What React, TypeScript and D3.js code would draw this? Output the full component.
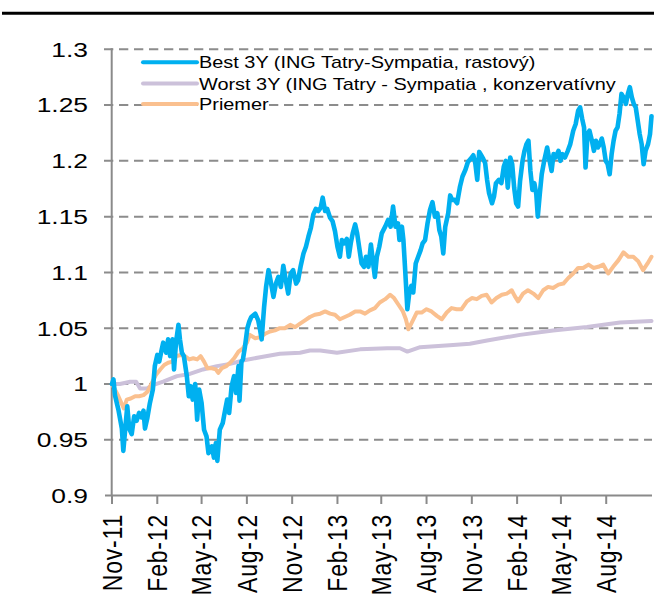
import React from "react";
import * as d3 from "d3";

const seriesNames = [
  "Best 3Y (ING Tatry-Sympatia, rastový)",
  "Worst 3Y (ING Tatry - Sympatia , konzervatívny",
  "Priemer",
];
const seriesColors = ["#00B0F0", "#CCC1DA", "#FAC08F"];

const startDate = "2011-11-01";
const endDate = "2014-11-01";

const tickLabels = ["Nov-11", "Feb-12", "May-12", "Aug-12", "Nov-12", "Feb-13", "May-13", "Aug-13", "Nov-13", "Feb-14", "May-14", "Aug-14"];
const yTicks = [0.9, 0.95, 1, 1.05, 1.1, 1.15, 1.2, 1.25, 1.3];
const yTickLabels = ["0.9", "0.95", "1", "1.05", "1.1", "1.15", "1.2", "1.25", "1.3"];

// Best 3Y: day offset from start, value
const bestDays = [0, 3, 6, 13, 20, 23, 28, 31, 35, 40, 45, 50, 55, 60, 64, 67, 72, 77, 83, 87, 92, 96, 101, 104, 110, 114, 118, 123, 126, 130, 135, 138, 142, 146, 152, 156, 160, 164, 169, 173, 177, 182, 187, 192, 196, 203, 207, 211, 214, 219, 225, 230, 234, 238, 243, 248, 252, 257, 259, 263, 266, 270, 275, 279, 283, 291, 297, 301, 304, 309, 313, 318, 322, 328, 333, 338, 343, 348, 353, 358, 363, 368, 374, 378, 383, 389, 394, 399, 404, 409, 414, 419, 424, 428, 433, 437, 443, 448, 453, 458, 463, 467, 471, 477, 481, 485, 489, 494, 498, 502, 507, 512, 516, 521, 526, 530, 534, 538, 543, 548, 555, 561, 566, 571, 576, 581, 584, 589, 592, 596, 600, 604, 608, 612, 617, 622, 627, 631, 636, 641, 646, 651, 656, 661, 665, 669, 673, 677, 683, 687, 691, 696, 701, 707, 712, 718, 723, 729, 734, 738, 742, 746, 750, 754, 758, 762, 766, 772, 776, 780, 786, 791, 796, 800, 804, 809, 813, 817, 821, 825, 829, 834, 838, 842, 846, 850, 854, 858, 862, 865, 869, 873, 878, 884, 889, 893, 897, 901, 907, 911, 915, 920, 926, 931, 937, 942, 947, 951, 955, 959, 962, 966, 970, 975, 979, 983, 987, 991, 995, 999, 1003, 1007, 1011, 1015, 1019, 1023, 1027, 1031, 1035, 1039, 1044, 1048, 1052, 1056, 1060, 1064, 1068, 1072, 1076, 1080, 1084, 1089, 1093, 1096];
const bestValues = [1.0, 1.004, 0.99, 0.977, 0.96, 0.94, 0.965, 0.98, 0.96, 0.955, 0.971, 0.967, 0.974, 0.97, 0.976, 0.96, 0.97, 0.983, 0.995, 1.016, 1.026, 1.02, 1.031, 1.037, 1.028, 1.04, 1.025, 1.04, 1.013, 1.037, 1.053, 1.04, 1.028, 1.025, 1.007, 0.989, 0.998, 0.986, 1.0, 0.968, 0.995, 0.983, 0.959, 0.953, 0.938, 0.944, 0.934, 0.947, 0.931, 0.959, 0.965, 0.977, 0.986, 0.974, 0.998, 1.007, 0.992, 1.016, 0.985, 1.02, 1.022, 1.033, 1.05, 1.056, 1.06, 1.063, 1.057, 1.048, 1.04, 1.069, 1.087, 1.102, 1.093, 1.078, 1.09, 1.096, 1.087, 1.106, 1.093, 1.081, 1.099, 1.102, 1.09, 1.093, 1.105, 1.117, 1.123, 1.132, 1.14, 1.152, 1.157, 1.155, 1.158, 1.167, 1.155, 1.157, 1.149, 1.146, 1.137, 1.123, 1.114, 1.129, 1.126, 1.13, 1.114, 1.126, 1.135, 1.143, 1.135, 1.123, 1.108, 1.105, 1.114, 1.105, 1.125, 1.11, 1.096, 1.114, 1.123, 1.135, 1.141, 1.147, 1.141, 1.159, 1.141, 1.144, 1.129, 1.141, 1.129, 1.099, 1.067, 1.082, 1.088, 1.082, 1.108, 1.114, 1.12, 1.126, 1.129, 1.144, 1.156, 1.163, 1.15, 1.153, 1.138, 1.132, 1.117, 1.141, 1.153, 1.169, 1.165, 1.165, 1.162, 1.177, 1.186, 1.192, 1.199, 1.202, 1.205, 1.198, 1.183, 1.208, 1.205, 1.202, 1.198, 1.183, 1.171, 1.162, 1.168, 1.18, 1.183, 1.18, 1.195, 1.2, 1.176, 1.203, 1.197, 1.176, 1.162, 1.159, 1.182, 1.2, 1.209, 1.215, 1.218, 1.191, 1.174, 1.18, 1.17, 1.15, 1.17, 1.188, 1.2, 1.212, 1.2, 1.191, 1.206, 1.203, 1.209, 1.2, 1.206, 1.203, 1.209, 1.215, 1.227, 1.233, 1.245, 1.248, 1.238, 1.23, 1.194, 1.224, 1.227, 1.218, 1.209, 1.218, 1.212, 1.215, 1.22, 1.212, 1.2, 1.197, 1.188, 1.206, 1.218, 1.227, 1.23, 1.242, 1.26, 1.257, 1.251, 1.26, 1.266, 1.257, 1.251, 1.248, 1.236, 1.224, 1.215, 1.197, 1.209, 1.215, 1.224, 1.24];

// Worst 3Y
const worstDays = [0, 16, 37, 49, 57, 71, 83, 104, 132, 158, 185, 213, 240, 266, 301, 341, 382, 402, 423, 457, 504, 559, 585, 600, 626, 693, 727, 762, 829, 896, 965, 1032, 1096];
const worstValues = [1.0, 1.0, 1.002, 1.002, 0.996, 0.996, 0.999, 1.002, 1.007, 1.009, 1.013, 1.016, 1.018, 1.021, 1.024, 1.027, 1.028, 1.03, 1.03, 1.028, 1.031, 1.032, 1.032, 1.029, 1.033, 1.035, 1.036, 1.039, 1.044, 1.048, 1.051, 1.055, 1.0565];

// Priemer
const avgDays = [0, 6, 13, 22, 24, 30, 38, 47, 55, 64, 72, 81, 89, 98, 106, 114, 123, 131, 140, 148, 157, 165, 173, 180, 187, 194, 203, 211, 216, 223, 232, 240, 248, 257, 266, 274, 280, 291, 301, 311, 321, 331, 341, 351, 362, 372, 382, 392, 402, 412, 423, 433, 443, 453, 463, 473, 483, 494, 504, 514, 524, 534, 544, 555, 565, 573, 582, 591, 597, 602, 609, 619, 629, 639, 649, 660, 670, 680, 690, 700, 710, 721, 731, 741, 751, 761, 771, 781, 792, 802, 812, 818, 825, 835, 845, 856, 866, 876, 886, 896, 907, 917, 927, 937, 947, 957, 968, 978, 988, 998, 1008, 1018, 1029, 1039, 1049, 1059, 1069, 1079, 1088, 1096];
const avgValues = [1.0, 0.995, 0.989, 0.98, 0.978, 0.986, 0.987, 0.989, 0.989, 0.99, 0.993, 1.001, 1.008, 1.013, 1.017, 1.019, 1.02, 1.025, 1.026, 1.025, 1.022, 1.023, 1.022, 1.025, 1.02, 1.014, 1.014, 1.013, 1.01, 1.014, 1.016, 1.019, 1.023, 1.029, 1.032, 1.037, 1.044, 1.041, 1.042, 1.045, 1.047, 1.048, 1.05, 1.05, 1.053, 1.051, 1.054, 1.057, 1.06, 1.062, 1.063, 1.065, 1.063, 1.062, 1.058, 1.06, 1.062, 1.065, 1.065, 1.063, 1.066, 1.068, 1.073, 1.076, 1.08, 1.077, 1.071, 1.065, 1.058, 1.049, 1.055, 1.064, 1.064, 1.067, 1.065, 1.061, 1.058, 1.064, 1.068, 1.067, 1.067, 1.074, 1.077, 1.076, 1.079, 1.08, 1.073, 1.077, 1.08, 1.081, 1.084, 1.079, 1.074, 1.081, 1.084, 1.081, 1.077, 1.084, 1.087, 1.086, 1.089, 1.09, 1.095, 1.099, 1.104, 1.104, 1.107, 1.104, 1.105, 1.107, 1.099, 1.105, 1.111, 1.118, 1.114, 1.114, 1.11, 1.102, 1.108, 1.114];

const W = 654;
const H = 610;
const FONT = "'Liberation Sans', Arial, Helvetica, sans-serif";

export default function App() {
  const parse = d3.timeParse("%Y-%m-%d");
  const start = parse(startDate) as Date;
  const end = parse(endDate) as Date;
  const x = d3.scaleTime().domain([start, end]).range([112, 651.5]);
  const y = d3.scaleLinear().domain([0.9, 1.3]).range([495.5, 49.3]);
  const tickParse = d3.timeParse("%b-%y");
  const tickDates = tickLabels.map((t) => tickParse(t) as Date);

  const mk = (days: number[], vals: number[]) =>
    days.map((d, i) => ({ date: d3.timeDay.offset(start, d), v: vals[i] }));
  const series = [
    mk(bestDays, bestValues),
    mk(worstDays, worstValues),
    mk(avgDays, avgValues),
  ];
  const line = d3
    .line<{ date: Date; v: number }>()
    .x((d) => x(d.date))
    .y((d) => y(d.v));

  const axisColor = "#8a8a8a";
  const drawOrder = [1, 2, 0];
  const legendY = [62.3, 83.5, 104];

  return (
    <svg
      width={W}
      height={H}
      style={{ position: "absolute", left: 0, top: 0, background: "#fff" }}
      fontFamily={FONT}
    >
      <rect x={0} y={0} width={W} height={H} fill="#fff" />
      <line x1={2} x2={654} y1={13.3} y2={13.3} stroke="#000" strokeWidth={3} />

      {/* gridlines */}
      {yTicks.slice(1).map((t) => (
        <line
          key={"g" + t}
          x1={104}
          x2={652}
          y1={y(t)}
          y2={y(t)}
          stroke="#8c8c8c"
          strokeWidth={2}
          strokeDasharray="9.3,5.7"
        />
      ))}
      {/* y axis */}
      <line x1={111.7} x2={111.7} y1={y(1.3) - 1} y2={y(0.9)} stroke={axisColor} strokeWidth={2} />
      {/* x axis */}
      <line x1={105} x2={652} y1={y(0.9)} y2={y(0.9)} stroke={axisColor} strokeWidth={2} />
      {tickDates.map((d, i) => (
        <line
          key={"t" + i}
          x1={x(d)}
          x2={x(d)}
          y1={y(0.9)}
          y2={y(0.9) + 8.5}
          stroke={axisColor}
          strokeWidth={2}
        />
      ))}

      {/* y labels */}
      {yTicks.map((t, i) => (
        <text
          key={"yl" + t}
          transform={`translate(88,${y(t) + 7.4}) scale(1.3,1)`}
          textAnchor="end"
          fontSize={20.3}
          fill="#000"
        >
          {yTickLabels[i]}
        </text>
      ))}

      {/* x labels */}
      {tickDates.map((d, i) => (
        <text
          key={"xl" + i}
          transform={`translate(${x(d) + 9.8},514) scale(1.2,1) rotate(-90)`}
          textAnchor="end"
          fontSize={23}
          letterSpacing={0.8}
          fill="#000"
        >
          {tickLabels[i]}
        </text>
      ))}

      {/* series */}
      {drawOrder.map((si) => (
        <path
          key={"s" + si}
          d={line(series[si]) || ""}
          fill="none"
          stroke={seriesColors[si]}
          strokeWidth={si === 0 ? 4.6 : 4}
          strokeLinejoin="round"
          strokeLinecap="round"
        />
      ))}

      {/* legend */}
      {seriesNames.map((name, i) => (
        <g key={"lg" + i}>
          <rect
            x={198}
            y={legendY[i] - 7}
            width={i === 2 ? 70 : 0}
            height={15}
            fill="#fff"
          />
          <line
            x1={143}
            x2={197}
            y1={legendY[i]}
            y2={legendY[i]}
            stroke={seriesColors[i]}
            strokeWidth={4}
            strokeLinecap="round"
          />
          <text
            transform={`translate(199,${legendY[i] + 6.1}) scale(1.17,1)`}
            fontSize={17}
            fill="#000"
          >
            {name}
          </text>
        </g>
      ))}
    </svg>
  );
}
